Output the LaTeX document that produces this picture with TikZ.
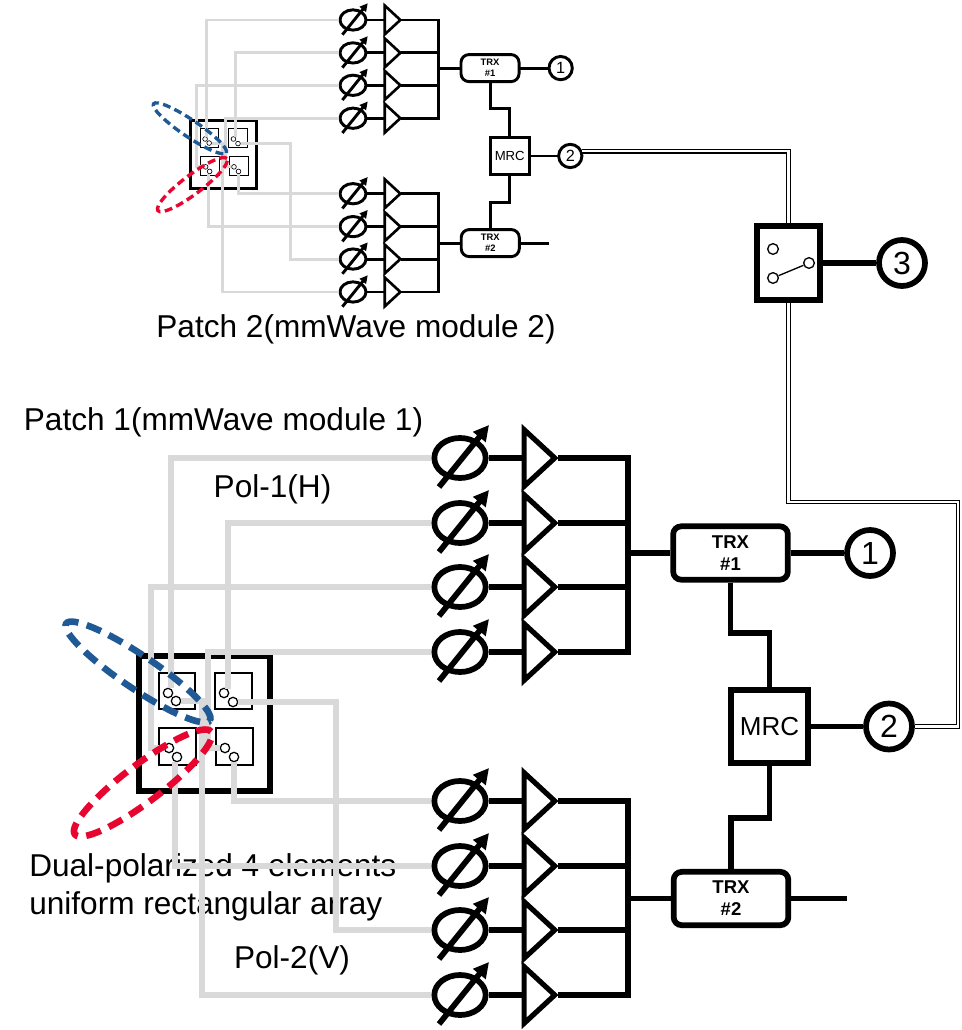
\documentclass[tikz,border=0pt]{standalone}
\usepackage{fontspec}
\setmainfont{Liberation Sans}
\usetikzlibrary{shapes.geometric,arrows.meta}
\newdimen\patchlw
\definecolor{feedgray}{HTML}{D9D9D9}
\definecolor{polblue}{HTML}{1F5A96}
\definecolor{polred}{HTML}{E6062F}
\tikzset{
	wire/.style = {line width=\patchlw},
	feed/.style = {line width=\patchlw, color=feedgray},
	coax/.style = {line width=0.95pt, double=white, double distance=1.7pt},
	shifter/.style = {draw, ellipse, inner sep=0pt, line width=\patchlw, minimum width=38.5pt, minimum height=30pt},
	shifter arrow/.style = {line width=\patchlw, -{Triangle[length=0pt 2.7, width=0pt 2.7]}},
	amp/.style = {draw, isosceles triangle, isosceles triangle stretches, isosceles triangle apex angle=88, inner sep=0pt, anchor=west, line width=0.9\patchlw, minimum width=42.5pt, minimum height=23pt},
	trx/.style = {draw, rectangle, rounded corners=6pt, align=center, line width=\patchlw, minimum width=86pt, minimum height=40pt, inner sep=0pt, font=\fontsize{13.9}{16.5}\selectfont\bfseries},
	mrc/.style = {draw, rectangle, line width=\patchlw, minimum width=58pt, minimum height=55pt, inner sep=0pt, font=\fontsize{19.5}{22}\selectfont},
	port/.style = {draw, circle, inner sep=0pt, fill=white, line width=\patchlw, minimum size=34.5pt, font=\fontsize{24}{26}\selectfont},
	array/.style = {draw, rectangle, line width=\patchlw, minimum width=98pt, minimum height=101pt},
	element/.style = {draw, rectangle, line width=0.35\patchlw, minimum size=27.5pt},
	feedpoint/.style = {draw, circle, fill=white, inner sep=0pt, line width=0.22\patchlw, minimum size=7pt},
	pol/.style = {draw, ellipse, inner sep=0pt, line width=1.15\patchlw, dash pattern=on 2.7\patchlw off 1.5\patchlw},
	label/.style = {inner sep=0pt, font=\fontsize{23.7}{28.5}\selectfont},
}
\newcommand{\patchmodule}[4]{
	\begin{scope}[shift={#2}, scale=#3, name prefix=#1-, every node/.append style={transform shape}]
		\patchlw=#4
		\node[array] (array) at (204.5,723.5) {};
		\node[element] (el1) at (177,691) {};
		\node[element] (el2) at (233.5,691) {};
		\node[element] (el3) at (177.5,746.5) {};
		\node[element] (el4) at (234.5,746.5) {};
		\node[feedpoint] (f1a) at (168,693) {};
		\node[feedpoint] (f1b) at (176,701) {};
		\node[feedpoint] (f2a) at (224,693) {};
		\node[feedpoint] (f2b) at (233,702) {};
		\node[feedpoint] (f3a) at (169,748) {};
		\node[feedpoint] (f3b) at (177,757) {};
		\node[feedpoint] (f4a) at (225,748) {};
		\node[feedpoint] (f4b) at (234,757) {};

		\foreach \i/\y in {1/458,2/523,3/587,4/652,5/801,6/866,7/930,8/995}{
			\node[shifter] (ps\i) at (460,\y) {};
			\node[amp] (amp\i) at (521.5,\y) {};
			\coordinate (bus\i) at (628,\y);
			\draw[shifter arrow] (ps\i.center)++(-21,29)--++(50,-62);
			\draw[wire] (ps\i.east)--(amp\i.west);
			\draw[wire] (amp\i.apex)--(bus\i);
		}
		\draw[wire, line cap=rect] (bus1)--(bus4);
		\draw[wire, line cap=rect] (bus5)--(bus8);

		\coordinate (v3) at (151,700);
		\coordinate (v4) at (208,700);
		\coordinate (v5) at (202,800);
		\coordinate (v7) at (336,800);
		\draw[feed] (f1a.60)|-(ps1.west);
		\draw[feed] (f2a.45)|-(ps2.west);
		\draw[feed] (ps3.west)-|(v3)|-(f3a.west);
		\draw[feed] (ps4.west)-|(v4)|-(f4a.west);
		\draw[feed] (f4b.south)|-(ps5.west);
		\draw[feed] (f3b.250)|-(ps6.west);
		\draw[feed] (f2b.east)-|(v7)|-(ps7.west);
		\draw[feed] (f1b.east)-|(v5)|-(ps8.west);

		\node[pol, draw=polblue, rotate=-34, minimum width=130pt, minimum height=25pt] (polh) at (138,672) {};
		\node[pol, draw=polred, rotate=37, minimum width=128pt, minimum height=28pt] (polv) at (143,783) {};

		\node[trx] (trx1) at (730.5,553) {TRX\\\#1};
		\node[trx] (trx2) at (731,898.5) {TRX\\\#2};
		\node[mrc] (mrc) at (769.5,726.5) {MRC};
		\node[port] (c1) at (870,553) {1};
		\node[port] (c2) at (889,726.5) {2};
		\coordinate (kink1) at (769.5,633);
		\coordinate (kink2) at (731,818);
		\coordinate (tail) at (847,898.5);
		\draw[wire] (trx1.west-|bus1)--(trx1.west);
		\draw[wire] (trx2.west-|bus5)--(trx2.west);
		\draw[wire] (trx1.east)--(c1.west);
		\draw[wire] (trx2.east)--(tail);
		\draw[wire] (mrc.east)--(c2.west);
		\draw[wire] (trx1.south)|-(kink1)--(mrc.north);
		\draw[wire] (mrc.south)|-(kink2)--(trx2.north);
	\end{scope}
}
\begin{document}
\begin{tikzpicture}[x=0.75pt, y=-0.75pt]
	\useasboundingbox (0,0) rectangle (961,1030);

	\node[label, anchor=base] (patch2) at (356,337) {Patch 2(mmWave module 2)};
	\node[label, anchor=base] (patch1) at (223.5,430) {Patch 1(mmWave module 1)};
	\node[label, anchor=base] (polh text) at (272.5,497) {Pol-1(H)};
	\node[label, anchor=base] (polv text) at (292,968) {Pol-2(V)};
	\node[label, anchor=west, align=left] (array text) at (29,887) {Dual-polarized 4 elements\\uniform rectangular array};

	\patchmodule{big}{(0,0)}{1}{4.3pt}
	\patchmodule{top}{(120,-212)}{0.5065}{2.2pt}

	\patchlw=4.3pt
	\node[draw, rectangle, line width=\patchlw, minimum width=47pt, minimum height=55.5pt] (switch) at (788.5,263) {};
	\node[feedpoint, line width=1pt, minimum size=8pt] (sw1) at (773,249) {};
	\node[feedpoint, line width=1pt, minimum size=8pt] (sw2) at (773,278) {};
	\node[feedpoint, line width=1pt, minimum size=8pt] (sw3) at (809,263) {};
	\draw[line width=1pt] (sw2)--(sw3);
	\node[port] (c3) at (902,263) {3};
	\draw[wire] (switch.east)--(c3.west);

	\coordinate (coax corner) at (958,502);
	\draw[coax] (top-c2.22)-|(switch.north);
	\draw[coax] (big-c2.east)-|(coax corner)-|(switch.south);
\end{tikzpicture}
\end{document}
